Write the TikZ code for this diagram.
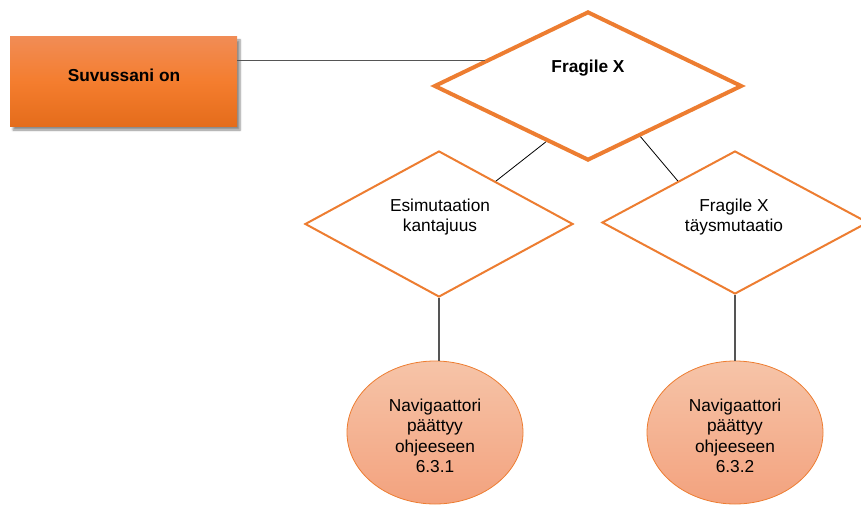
\documentclass[tikz,border=0pt]{standalone}
\usepackage{fontspec}
\setmainfont{Liberation Sans}
\usetikzlibrary{shapes.geometric,shadows.blur}

\definecolor{accent}{HTML}{ED7D31}
\definecolor{boxtop}{HTML}{F18C55}
\definecolor{boxmid}{HTML}{F47D2E}
\definecolor{boxbot}{HTML}{E46C1B}
\definecolor{endtop}{HTML}{F6C4A8}
\definecolor{endbot}{HTML}{F3A27E}
\definecolor{linkgray}{HTML}{555555}

\tikzset{
  txt/.style={font=\fontsize{17.3}{20.5}\selectfont, align=center, inner sep=0pt},
  boldtxt/.style={txt, font=\fontsize{17.3}{20.5}\selectfont\bfseries},
  startbox/.style={rectangle, minimum width=227pt, minimum height=90pt,
    top color=boxtop, bottom color=boxbot, middle color=boxmid,
    blur shadow={shadow xshift=3pt, shadow yshift=-3pt, shadow blur steps=6, shadow opacity=45}},
  bigdiamond/.style={diamond, draw=accent, line width=4pt, fill=white, inner sep=0pt},
  choice/.style={diamond, draw=accent, line width=2pt, fill=white, inner sep=0pt},
  endnode/.style={ellipse, draw=accent, line width=0.8pt, top color=endtop, bottom color=endbot,
    minimum width=176pt, minimum height=143pt, inner sep=0pt},
  link/.style={draw=black, line width=0.8pt},
  stem/.style={draw=linkgray, line width=1.2pt},
}

\begin{document}
\begin{tikzpicture}[x=1pt, y=-1pt]
  \useasboundingbox (0,0) rectangle (861,505);

  % start box
  \node[startbox] (start) at (123.5,82) {};
  \node[boldtxt, anchor=base] (starttxt) at (124,82) {Suvussani on};

  % main decision
  \node[bigdiamond, minimum width=308pt, minimum height=149pt] (fx) at (588,86) {};
  \node[boldtxt, anchor=base] (fxtxt) at (588,73) {Fragile X};

  % branches
  \node[choice, minimum width=268pt, minimum height=146pt] (pre) at (439,224) {};
  \node[txt] (pretxt) at (440,217) {Esimutaation\\kantajuus};
  \node[choice, minimum width=266pt, minimum height=143pt] (full) at (735,222.5) {};
  \node[txt] (fulltxt) at (734,217) {Fragile X\\täysmutaatio};

  % end points
  \node[endnode] (endpre) at (435,432.5) {};
  \node[txt] (endpretxt) at (435,436) {Navigaattori\\päättyy\\ohjeeseen\\6.3.1};
  \node[endnode] (endfull) at (735,432.5) {};
  \node[txt] (endfulltxt) at (735,436) {Navigaattori\\päättyy\\ohjeeseen\\6.3.2};

  % connectors
  \draw[draw=linkgray, line width=1pt] (start.east |- fx.166.4) -- (fx.166.4);
  \draw[link] (fx.233) -- (pre.37);
  \draw[link] (fx.-44) -- (full.144);
  \draw[stem] (pre.south) -- (pre.south |- endpre.north);
  \draw[stem] (full.south) -- (full.south |- endfull.north);
\end{tikzpicture}
\end{document}
